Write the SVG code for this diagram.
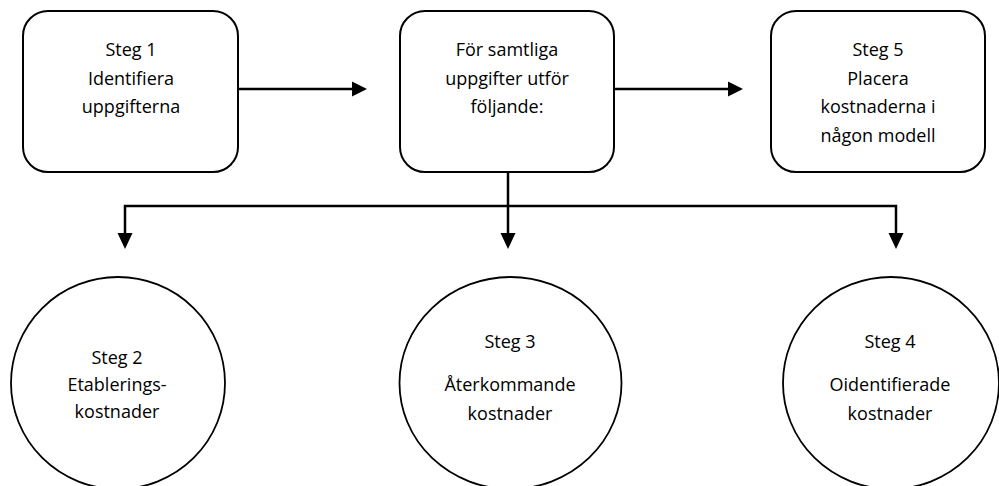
<svg xmlns="http://www.w3.org/2000/svg" width="999" height="486" viewBox="0 0 999 486">
<style>
.box{fill:#fff;stroke:#000;stroke-width:2}
.circ{fill:#fff;stroke:#000;stroke-width:1.8}
.t{font-family:"Open Sans","Liberation Sans",Arial,sans-serif;font-size:18px;fill:#000;text-anchor:middle}
.ln{fill:none;stroke:#000;stroke-width:2.5}
.ah{fill:#000;stroke:none}
</style>
<rect width="999" height="486" fill="#fff"/>
<g id="connectors">
<path class="ln" d="M238,89 H354"/>
<path class="ah" d="M352,81.5 L367,89 L352,96.5 Z"/>
<path class="ln" d="M614,89 H730"/>
<path class="ah" d="M728,81.5 L743,89 L728,96.5 Z"/>
<path class="ln" d="M508,172 V236"/>
<path class="ln" d="M125,236 V206 H896 V236"/>
<path class="ah" d="M117.5,233 L125,249 L132.5,233 Z"/>
<path class="ah" d="M500.5,233 L508,249 L515.5,233 Z"/>
<path class="ah" d="M888.5,233 L896,249 L903.5,233 Z"/>
</g>
<g id="steg1">
<rect class="box" x="23" y="11" width="215" height="161" rx="25"/>
<text class="t" x="131" y="56">Steg 1</text>
<text class="t" x="131" y="84.5">Identifiera</text>
<text class="t" x="131" y="112.5">uppgifterna</text>
</g>
<g id="samtliga">
<rect class="box" x="400" y="11" width="214" height="161" rx="25"/>
<text class="t" x="507" y="56">För samtliga</text>
<text class="t" x="507" y="84.5">uppgifter utför</text>
<text class="t" x="507" y="113">följande:</text>
</g>
<g id="steg5">
<rect class="box" x="771" y="11" width="214" height="161" rx="25"/>
<text class="t" x="878" y="56">Steg 5</text>
<text class="t" x="878" y="85">Placera</text>
<text class="t" x="878" y="113">kostnaderna i</text>
<text class="t" x="878" y="142">någon modell</text>
</g>
<g id="steg2">
<ellipse class="circ" cx="118" cy="383" rx="107" ry="106"/>
<text class="t" x="117" y="364">Steg 2</text>
<text class="t" x="117" y="391">Etablerings-</text>
<text class="t" x="117" y="418">kostnader</text>
</g>
<g id="steg3">
<ellipse class="circ" cx="510.5" cy="383" rx="111" ry="106"/>
<text class="t" x="510" y="348">Steg 3</text>
<text class="t" x="510" y="391">Återkommande</text>
<text class="t" x="510" y="420">kostnader</text>
</g>
<g id="steg4">
<ellipse class="circ" cx="891" cy="383" rx="108" ry="106"/>
<text class="t" x="890" y="348">Steg 4</text>
<text class="t" x="890" y="391">Oidentifierade</text>
<text class="t" x="890" y="420">kostnader</text>
</g>
</svg>
